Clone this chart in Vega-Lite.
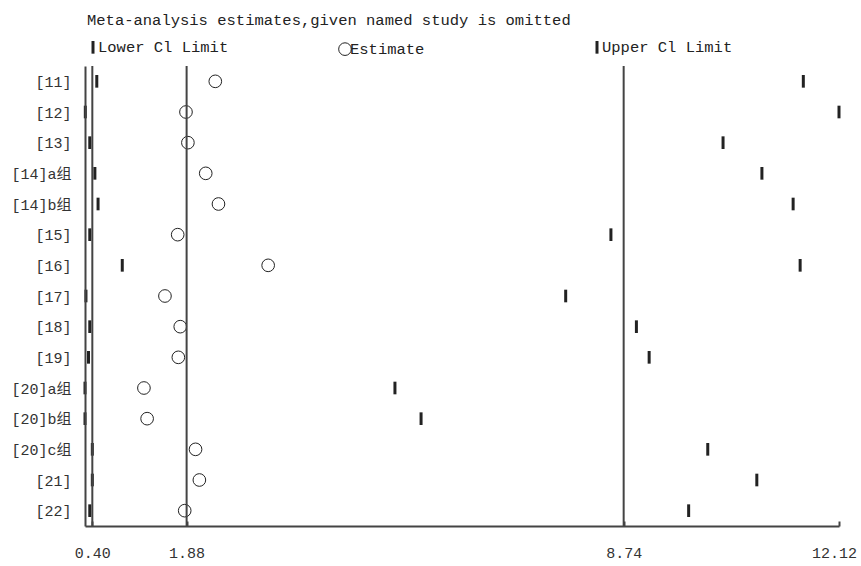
{
  "$schema": "https://vega.github.io/schema/vega-lite/v6.json",
  "width": 754,
  "height": 460,
  "autosize": {"type": "none"},
  "padding": {"left": 85, "top": 66, "right": 22, "bottom": 40},
  "background": "white",
  "title": {
    "text": "Meta-analysis estimates,given named study is omitted",
    "anchor": "start",
    "frame": "group",
    "fontSize": 15.5,
    "fontWeight": "normal",
    "color": "#222",
    "offset": 11,
    "dx": 2
  },
  "config": {
    "font": "Liberation Mono, Noto Sans CJK SC",
    "view": {"stroke": null}
  },
  "layer": [
    {
      "data": {
        "values": [
          {"study": "[11]", "measure": "Lower Cl Limit", "value": 0.47},
          {"study": "[11]", "measure": "Estimate", "value": 2.33},
          {"study": "[11]", "measure": "Upper Cl Limit", "value": 11.56},
          {"study": "[12]", "measure": "Lower Cl Limit", "value": 0.29},
          {"study": "[12]", "measure": "Estimate", "value": 1.87},
          {"study": "[12]", "measure": "Upper Cl Limit", "value": 12.12},
          {"study": "[13]", "measure": "Lower Cl Limit", "value": 0.36},
          {"study": "[13]", "measure": "Estimate", "value": 1.90},
          {"study": "[13]", "measure": "Upper Cl Limit", "value": 10.30},
          {"study": "[14]a组", "measure": "Lower Cl Limit", "value": 0.44},
          {"study": "[14]a组", "measure": "Estimate", "value": 2.18},
          {"study": "[14]a组", "measure": "Upper Cl Limit", "value": 10.91},
          {"study": "[14]b组", "measure": "Lower Cl Limit", "value": 0.49},
          {"study": "[14]b组", "measure": "Estimate", "value": 2.38},
          {"study": "[14]b组", "measure": "Upper Cl Limit", "value": 11.40},
          {"study": "[15]", "measure": "Lower Cl Limit", "value": 0.36},
          {"study": "[15]", "measure": "Estimate", "value": 1.74},
          {"study": "[15]", "measure": "Upper Cl Limit", "value": 8.54},
          {"study": "[16]", "measure": "Lower Cl Limit", "value": 0.87},
          {"study": "[16]", "measure": "Estimate", "value": 3.16},
          {"study": "[16]", "measure": "Upper Cl Limit", "value": 11.51},
          {"study": "[17]", "measure": "Lower Cl Limit", "value": 0.30},
          {"study": "[17]", "measure": "Estimate", "value": 1.54},
          {"study": "[17]", "measure": "Upper Cl Limit", "value": 7.83},
          {"study": "[18]", "measure": "Lower Cl Limit", "value": 0.36},
          {"study": "[18]", "measure": "Estimate", "value": 1.78},
          {"study": "[18]", "measure": "Upper Cl Limit", "value": 8.94},
          {"study": "[19]", "measure": "Lower Cl Limit", "value": 0.34},
          {"study": "[19]", "measure": "Estimate", "value": 1.75},
          {"study": "[19]", "measure": "Upper Cl Limit", "value": 9.14},
          {"study": "[20]a组", "measure": "Lower Cl Limit", "value": 0.285},
          {"study": "[20]a组", "measure": "Estimate", "value": 1.21},
          {"study": "[20]a组", "measure": "Upper Cl Limit", "value": 5.15},
          {"study": "[20]b组", "measure": "Lower Cl Limit", "value": 0.285},
          {"study": "[20]b组", "measure": "Estimate", "value": 1.26},
          {"study": "[20]b组", "measure": "Upper Cl Limit", "value": 5.56},
          {"study": "[20]c组", "measure": "Lower Cl Limit", "value": 0.40},
          {"study": "[20]c组", "measure": "Estimate", "value": 2.02},
          {"study": "[20]c组", "measure": "Upper Cl Limit", "value": 10.06},
          {"study": "[21]", "measure": "Lower Cl Limit", "value": 0.40},
          {"study": "[21]", "measure": "Estimate", "value": 2.08},
          {"study": "[21]", "measure": "Upper Cl Limit", "value": 10.83},
          {"study": "[22]", "measure": "Lower Cl Limit", "value": 0.36},
          {"study": "[22]", "measure": "Estimate", "value": 1.85},
          {"study": "[22]", "measure": "Upper Cl Limit", "value": 9.76}
        ]
      },
      "mark": {"type": "point", "filled": false, "opacity": 1, "size": 160},
      "encoding": {
        "y": {
          "field": "study",
          "type": "nominal",
          "sort": null,
          "axis": {
            "title": null,
            "domainColor": "#444",
            "domainWidth": 2,
            "ticks": false,
            "labelPadding": 14,
            "labelFontSize": 15,
            "labelColor": "#333",
            "zindex": 1
          }
        },
        "x": {
          "field": "value",
          "type": "quantitative",
          "scale": {"domain": [0.285, 12.12], "nice": false, "zero": false},
          "axis": {
            "title": null,
            "values": [0.40, 1.88, 8.74, 12.12],
            "format": ".2f",
            "grid": false,
            "domainColor": "#444",
            "domainWidth": 2,
            "tickColor": "#444",
            "tickWidth": 2,
            "tickSize": -5,
            "labelPadding": 24,
            "labelFontSize": 15,
            "labelColor": "#333",
            "labelFlush": false,
            "labelOffset": {"condition": {"test": "datum.value > 12", "value": -5}, "value": 0},
            "zindex": 1
          }
        },
        "shape": {
          "field": "measure",
          "type": "nominal",
          "scale": {
            "domain": ["Lower Cl Limit", "Estimate", "Upper Cl Limit"],
            "range": ["M0,-1V1", "circle", "M0,-1V1"]
          },
          "legend": {
            "title": null,
            "orient": "top",
            "direction": "horizontal",
            "columns": 3,
            "gridAlign": "all",
            "columnPadding": 107,
            "labelFontSize": 15.5,
            "labelColor": "#222",
            "labelOffset": -3,
            "symbolSize": 160,
            "symbolStrokeColor": "#222",
            "offset": 6,
            "padding": 0
          }
        },
        "strokeWidth": {
          "field": "measure",
          "type": "nominal",
          "scale": {
            "type": "ordinal",
            "domain": ["Lower Cl Limit", "Estimate", "Upper Cl Limit"],
            "range": [3, 1, 3]
          }
        },
        "color": {"value": "#222"}
      }
    },
    {
      "data": {"values": [{"ref": 0.40}, {"ref": 1.88}, {"ref": 8.74}]},
      "mark": {"type": "rule", "color": "#444", "strokeWidth": 2},
      "encoding": {"x": {"field": "ref", "type": "quantitative"}}
    }
  ]
}
